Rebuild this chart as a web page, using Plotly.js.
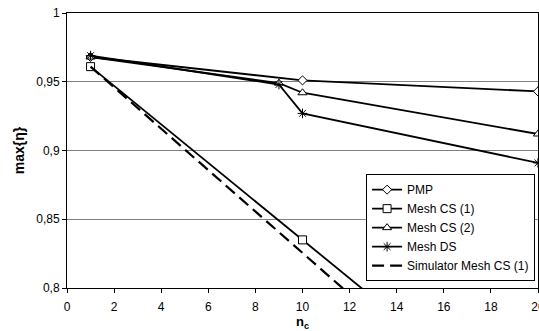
<!DOCTYPE html>
<html>
<head>
<meta charset="utf-8">
<script src="https://cdn.plot.ly/plotly-3.0.1.min.js"></script>
<style>html,body{margin:0;padding:0;background:#fff;}#chart{width:539px;height:331px;}</style>
</head>
<body>
<div id="chart"></div>
<script>
const pmpX = [1, 10, 20];
const pmpY = [0.968, 0.951, 0.943];
const cs1X = [1, 10, 20];
const cs1Y = [0.961, 0.835, 0.695];
const cs2X = [1, 9, 10, 20];
const cs2Y = [0.968, 0.949, 0.942, 0.912];
const dsX = [1, 9, 10, 20];
const dsY = [0.969, 0.948, 0.927, 0.891];
const simX = [1, 20];
const simY = [0.961, 0.675];
const xTicks = [0, 2, 4, 6, 8, 10, 12, 14, 16, 18, 20];
const yTicks = [0.8, 0.85, 0.9, 0.95, 1];

const FONT = "'Liberation Sans', Arial, sans-serif";
const lineStyle = {color: '#000', width: 1.8};
const traces = [
  {x: pmpX, y: pmpY, name: 'PMP', mode: 'lines+markers', line: lineStyle,
   marker: {symbol: 'diamond', size: 7, color: '#fff', line: {color: '#000', width: 1}}},
  {x: cs1X, y: cs1Y, name: 'Mesh CS (1)', mode: 'lines+markers', line: lineStyle,
   marker: {symbol: 'square', size: 8, color: '#fff', line: {color: '#000', width: 1}}},
  {x: cs2X, y: cs2Y, name: 'Mesh CS (2)', mode: 'lines+markers', line: lineStyle,
   marker: {symbol: 'triangle-up', size: 8, color: '#fff', line: {color: '#000', width: 1}}},
  {x: dsX, y: dsY, name: 'Mesh DS', mode: 'lines+markers', line: lineStyle,
   marker: {symbol: 'asterisk-open', size: 8, color: '#000', line: {color: '#000', width: 1}}},
  {x: simX, y: simY, name: 'Simulator Mesh CS (1)', mode: 'lines',
   line: {color: '#000', width: 2.2, dash: '12px,6px'}}
];

const layout = {
  width: 539, height: 331,
  margin: {l: 67, r: 1, t: 13, b: 43, pad: 0},
  paper_bgcolor: '#fff', plot_bgcolor: '#fff',
  separators: ', ',
  font: {family: FONT, size: 12, color: '#000'},
  showlegend: true,
  legend: {
    x: 0.635, y: 0.414, xanchor: 'left', yanchor: 'top',
    bgcolor: '#fff', bordercolor: '#000', borderwidth: 1,
    font: {family: FONT, size: 12, color: '#000'},
    tracegroupgap: 0, itemwidth: 30
  },
  xaxis: {
    range: [0, 20], tickvals: xTicks, ticktext: xTicks.map(String),
    showgrid: false, zeroline: false,
    showline: true, linecolor: '#000', linewidth: 1, mirror: true,
    ticks: 'outside', ticklen: 4, tickcolor: '#000',
    ticklabeloverflow: 'allow', ticklabelstandoff: 4,
    tickfont: {family: FONT, size: 12, color: '#000'},
    title: {text: '<b>n<sub>c</sub></b>', font: {family: FONT, size: 13}, standoff: 4}
  },
  yaxis: {
    range: [0.8, 1], tickvals: yTicks,
    showgrid: true, gridcolor: '#808080', gridwidth: 1, zeroline: false,
    showline: true, linecolor: '#000', linewidth: 1, mirror: true,
    ticks: 'outside', ticklen: 4, tickcolor: '#000',
    tickfont: {family: FONT, size: 12, color: '#000'},
    title: {text: '<b>max{η}</b>', font: {family: FONT, size: 14}, standoff: 8}
  }
};
Plotly.newPlot('chart', traces, layout, {staticPlot: true, displayModeBar: false});
</script>
</body>
</html>
